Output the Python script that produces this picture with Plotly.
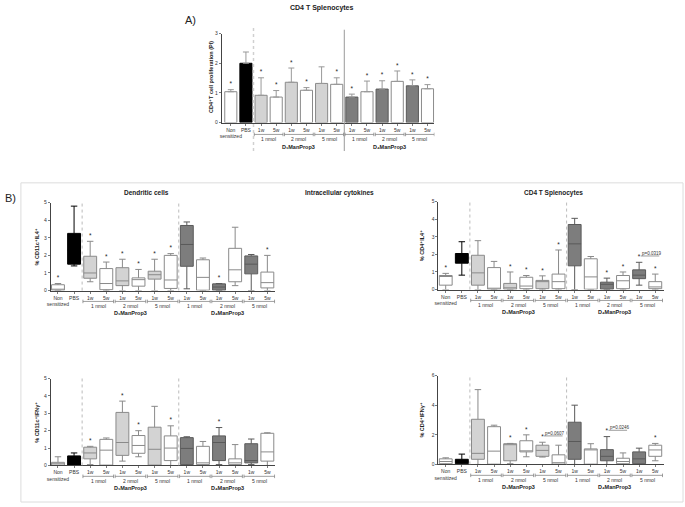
import plotly.graph_objects as go

W, H = 685, 507

# ---------------- data ----------------
categories = ["Non<br>sensitized", "PBS", "1w", "5w", "1w", "5w", "1w", "5w",
              "1w", "5w", "1w", "5w", "1w", "5w"]
dose_labels = ["1 nmol", "2 nmol", "5 nmol", "1 nmol", "2 nmol", "5 nmol"]
compound_labels = ["D₁ManProp3", "D₄ManProp3"]
fill_classes = ["white", "black", "light", "white", "light", "white", "light", "white",
                "dark", "white", "dark", "white", "dark", "white"]

# Panel A: CD4+ T cell proliferation (PI), mean and upper error
prolif_mean = [1.04, 2.00, 0.92, 0.86, 1.36, 1.09, 1.32, 1.29, 0.86, 1.04, 1.13, 1.39, 1.24, 1.14]
prolif_err_top = [1.11, 2.38, 1.51, 1.08, 1.84, 1.18, 1.88, 1.51, 0.96, 1.40, 1.41, 1.74, 1.44, 1.28]
prolif_star = [1, 0, 1, 1, 1, 1, 0, 1, 1, 1, 1, 1, 1, 1]

# Panel B1: % CD11c+ IL4+
dc_il4_low = [0, 1.4, 0.5, 0, 0, 0, 0, 0, 0.1, 0, 0, 0.28, 0, 0]
dc_il4_q1 = [0.02, 1.5, 0.7, 0.05, 0.28, 0.25, 0.65, 0.12, 1.38, 0.02, 0.02, 0.5, 0.95, 0.15]
dc_il4_med = [0.05, 2.3, 1.0, 0.4, 0.55, 0.62, 0.9, 0.6, 2.62, 0.75, 0.2, 1.18, 1.5, 0.45]
dc_il4_q3 = [0.33, 3.25, 1.95, 1.25, 1.3, 0.72, 1.1, 2.0, 3.7, 1.75, 0.38, 2.4, 1.97, 1.05]
dc_il4_high = [0.4, 4.8, 2.8, 1.62, 1.78, 1.2, 1.78, 2.1, 3.9, 1.85, 0.4, 3.6, 2.05, 2.0]
dc_il4_star = [1, 0, 1, 1, 1, 1, 1, 1, 0, 0, 1, 0, 0, 1]

# Panel B2: % CD4+ IL4+
cd4_il4_low = [0, 0.82, 0, 0, 0, 0, 0, 0, 0, 0, 0, 0, 0.25, 0]
cd4_il4_q1 = [0.25, 1.5, 0.25, 0.02, 0.02, 0.05, 0.05, 0.05, 1.35, 0.02, 0.02, 0.05, 0.62, 0.05]
cd4_il4_med = [0.78, 1.8, 0.95, 0.05, 0.1, 0.2, 0.45, 0.45, 2.6, 0.72, 0.3, 0.5, 0.82, 0.15]
cd4_il4_q3 = [0.8, 2.05, 1.95, 1.25, 0.35, 0.7, 0.52, 0.88, 3.7, 1.75, 0.42, 0.8, 1.12, 0.45]
cd4_il4_high = [0.92, 2.72, 2.78, 1.6, 1.0, 0.8, 0.78, 2.25, 4.05, 1.88, 0.65, 1.0, 1.55, 0.88]
cd4_il4_star = [1, 0, 0, 0, 1, 1, 1, 1, 0, 0, 1, 1, 1, 1]
cd4_il4_p = {12: "p=0.0319"}

# Panel B3: % CD11c+ IFNγ+
dc_ifn_low = [0, 0, 0.05, 0, 0.25, 0.5, 0, 0, 0, 0, 0.05, 0, 0.05, 0]
dc_ifn_q1 = [0.02, 0.02, 0.38, 0.02, 0.58, 0.7, 0.02, 0.28, 0.05, 0.05, 0.28, 0.05, 0.15, 0.25]
dc_ifn_med = [0.1, 0.3, 0.72, 0.88, 1.32, 1.15, 0.93, 1.0, 0.98, 0.15, 1.32, 0.15, 0.28, 0.78]
dc_ifn_q3 = [0.18, 0.55, 1.05, 1.5, 3.05, 1.72, 2.2, 1.7, 1.6, 1.1, 1.7, 0.38, 1.25, 1.85]
dc_ifn_high = [0.5, 0.72, 1.1, 1.58, 3.7, 2.0, 3.4, 2.28, 1.65, 1.38, 2.18, 1.2, 1.52, 1.88]
dc_ifn_star = [0, 0, 1, 0, 1, 1, 0, 1, 0, 0, 1, 0, 0, 0]

# Panel B4: % CD4+ IFNγ+
cd4_ifn_low = [0, 0, 0, 0, 0.05, 0.52, 0.5, 0, 0, 0, 0, 0, 0, 0.25]
cd4_ifn_q1 = [0.05, 0.05, 0.35, 0.02, 0.25, 0.85, 0.55, 0.02, 0.35, 0.02, 0.25, 0.05, 0.05, 0.55]
cd4_ifn_med = [0.2, 0.2, 0.75, 0.9, 1.35, 0.92, 0.95, 0.12, 1.55, 1.0, 0.55, 0.2, 0.38, 0.98]
cd4_ifn_q3 = [0.38, 0.35, 3.05, 2.55, 1.4, 1.6, 1.3, 0.65, 2.85, 1.05, 1.0, 0.42, 0.85, 1.3]
cd4_ifn_high = [0.45, 0.7, 5.05, 2.65, 1.42, 2.0, 1.5, 1.3, 4.0, 1.4, 1.88, 0.78, 1.1, 1.42]
cd4_ifn_star = [0, 0, 0, 0, 1, 1, 1, 0, 0, 0, 1, 0, 0, 1]
cd4_ifn_p = {6: "p=0.0607", 10: "p=0.0246"}

# ---------------- style ----------------
FONT = "Arial, Liberation Sans, DejaVu Sans, sans-serif"
FILL = {"white": "#ffffff", "black": "#000000", "light": "#d3d3d3", "dark": "#7d7d7d"}
EDGE = {"white": "#8a8a8a", "black": "#000000", "light": "#8a8a8a", "dark": "#5a5a5a"}
TXT = "#222222"

fig = go.Figure()
shapes, annotations = [], []


def px2x(p):
    return p / W


def px2y(p):
    return 1 - p / H


def note(x, y, text, size, xref="paper", yref="paper", angle=0, xanchor="center", color=TXT):
    annotations.append(dict(x=x, y=y, xref=xref, yref=yref, text=text, showarrow=False,
                            textangle=angle, xanchor=xanchor, yanchor="middle",
                            font=dict(size=size, color=color, family=FONT)))


def setup_axes(idx, xpx, ypx, xrange, yrange, dtick, off):
    xa = "xaxis" if idx == 1 else f"xaxis{idx}"
    ya = "yaxis" if idx == 1 else f"yaxis{idx}"
    xr = "x" if idx == 1 else f"x{idx}"
    yr = "y" if idx == 1 else f"y{idx}"
    fig.layout[xa] = dict(domain=[px2x(xpx[0]), px2x(xpx[1])], range=xrange, anchor=yr,
                          tickvals=list(range(len(categories))), ticktext=categories,
                          tickangle=0, tickfont=dict(size=5, color="#333", family=FONT),
                          ticks="outside", ticklen=2, tickwidth=0.7, tickcolor="#444",
                          showline=True, linecolor="#444", linewidth=1,
                          showgrid=False, zeroline=False, fixedrange=True)
    fig.layout[ya] = dict(domain=[px2y(ypx[1]), px2y(ypx[0])], range=yrange, anchor=xr,
                          dtick=dtick, tickfont=dict(size=5, color="#333", family=FONT),
                          ticks="outside", ticklen=2, tickwidth=0.7, tickcolor="#444",
                          showline=True, linecolor="#444", linewidth=1,
                          showgrid=False, zeroline=False, fixedrange=True)
    hpx = ypx[1] - ypx[0]
    ydom = yr + " domain"
    pairs = [(2, 3), (4, 5), (6, 7), (8, 9), (10, 11), (12, 13)]
    yb = -off[0] / hpx
    tk = 1.8 / hpx
    for (a, b), lab in zip(pairs, dose_labels):
        shapes.append(dict(type="line", xref=xr, yref=ydom, x0=a - 0.45, x1=b + 0.45,
                           y0=yb, y1=yb, line=dict(color="#777", width=0.7)))
        for xe in (a - 0.45, b + 0.45):
            shapes.append(dict(type="line", xref=xr, yref=ydom, x0=xe, x1=xe,
                               y0=yb - tk, y1=yb + tk, line=dict(color="#777", width=0.7)))
        note((a + b) / 2, -off[1] / hpx, lab, 5, xref=xr, yref=ydom, color="#333")
    for gc, lab in zip((4.5, 10.5), compound_labels):
        note(gc, -off[2] / hpx, "<b>" + lab + "</b>", 5.5, xref=xr, yref=ydom)
    return xr, yr, hpx


def add_stars(xr, yr, tops, flags, yrange, hpx, gap_px=5):
    xs, ys = [], []
    for i, (t, f) in enumerate(zip(tops, flags)):
        if f:
            xs.append(i)
            ys.append(t + gap_px * (yrange[1] - yrange[0]) / hpx)
    fig.add_trace(go.Scatter(x=xs, y=ys, xaxis=xr, yaxis=yr, mode="text", text=["*"] * len(xs),
                             textfont=dict(size=6.5, color=TXT, family=FONT),
                             textposition="middle center", showlegend=False, hoverinfo="skip"))


def add_boxes(xr, yr, low, q1, med, q3, high):
    for cls in ("white", "light", "dark", "black"):
        idx = [i for i, c in enumerate(fill_classes) if c == cls]
        fig.add_trace(go.Box(x=idx, q1=[q1[i] for i in idx], median=[med[i] for i in idx],
                             q3=[q3[i] for i in idx], lowerfence=[low[i] for i in idx],
                             upperfence=[high[i] for i in idx], xaxis=xr, yaxis=yr,
                             width=0.8, whiskerwidth=0.5, boxpoints=False,
                             fillcolor=FILL[cls], line=dict(color=EDGE[cls], width=1),
                             showlegend=False, hoverinfo="skip"))


# ---------------- Panel A ----------------
xr, yr, hA = setup_axes(1, (219, 433), (31, 121), [-0.6, 13.46], [0, 3], 1, (12, 17, 25))
fig.add_trace(go.Bar(x=list(range(len(categories))), y=prolif_mean, xaxis=xr, yaxis=yr, width=0.8,
                     marker=dict(color=[FILL[c] for c in fill_classes],
                                 line=dict(color=[EDGE[c] for c in fill_classes], width=1)),
                     error_y=dict(type="data", symmetric=False,
                                  array=[t - m for t, m in zip(prolif_err_top, prolif_mean)],
                                  arrayminus=[0] * len(prolif_mean), color="#999",
                                  thickness=1, width=3),
                     showlegend=False, hoverinfo="skip"))
add_stars(xr, yr, prolif_err_top, prolif_star, [0, 3], hA)
shapes.append(dict(type="line", xref=xr, yref="y domain", x0=1.5, x1=1.5, y0=-0.32, y1=1.067,
                   line=dict(color="#d0d0d0", width=1.5, dash="dot")))
shapes.append(dict(type="line", xref=xr, yref="y domain", x0=7.5, x1=7.5, y0=-0.32, y1=1.044,
                   line=dict(color="#999", width=1)))
note(px2x(208), px2y(75), "<b>CD4⁺T cell proliferation (PI)</b>", 5.5, angle=-90)
note(px2x(320), px2y(5), "<b>CD4 T Splenocytes</b>", 7)
note(px2x(188), px2y(17), "A)", 11)

# ---------------- Panel B frame ----------------
shapes.append(dict(type="rect", xref="paper", yref="paper", x0=px2x(17), x1=px2x(683),
                   y0=px2y(505), y1=px2y(182), line=dict(color="#dcdcdc", width=1)))
note(px2x(7), px2y(197), "B)", 11)
for xc, t in ((143, "Dendritic cells"), (337, "Intracellular cytokines"), (553, "CD4 T Splenocytes")):
    note(px2x(xc), px2y(192), "<b>" + t + "</b>", 6.5)

panels = [
    (2, (47, 273), (202, 291), [-0.45, 13.5], [0, 5], 1,
     (dc_il4_low, dc_il4_q1, dc_il4_med, dc_il4_q3, dc_il4_high), dc_il4_star, {},
     "% CD11c⁺IL4⁺", 33),
    (3, (437, 664), (201, 290), [-0.45, 13.55], [0, 5], 1,
     (cd4_il4_low, cd4_il4_q1, cd4_il4_med, cd4_il4_q3, cd4_il4_high), cd4_il4_star, cd4_il4_p,
     "% CD4⁺IL4⁺", 420),
    (4, (47, 273), (380, 468), [-0.45, 13.5], [0, 5], 1,
     (dc_ifn_low, dc_ifn_q1, dc_ifn_med, dc_ifn_q3, dc_ifn_high), dc_ifn_star, {},
     "% CD11c⁺IFNγ⁺", 33),
    (5, (437, 664), (377, 467), [-0.45, 13.55], [0, 6], 2,
     (cd4_ifn_low, cd4_ifn_q1, cd4_ifn_med, cd4_ifn_q3, cd4_ifn_high), cd4_ifn_star, cd4_ifn_p,
     "% CD4⁺IFNγ⁺", 420),
]

for idx, xpx, ypx, xrange, yrange, dt, stats, stars, pvals, ytitle, ytx in panels:
    xr, yr, hp = setup_axes(idx, xpx, ypx, xrange, yrange, dt, (11, 15.5, 22.5))
    low, q1, med, q3, high = stats
    add_boxes(xr, yr, low, q1, med, q3, high)
    add_stars(xr, yr, high, stars, yrange, hp)
    unit = (yrange[1] - yrange[0]) / hp
    for ci, txt in pvals.items():
        yv = high[ci] + 9 * unit
        note(ci + 0.05, yv, txt, 4.5, xref=xr, yref=yr, xanchor="left", color="#333")
        shapes.append(dict(type="line", xref=xr, yref=yr, x0=ci + 0.1, x1=ci + 1.25,
                           y0=yv - 2.6 * unit, y1=yv - 2.6 * unit,
                           line=dict(color="#555", width=0.6)))
    for xs in (1.5, 7.5):
        shapes.append(dict(type="line", xref=xr, yref=yr + " domain", x0=xs, x1=xs, y0=0, y1=1,
                           line=dict(color="#aaa", width=0.8, dash="dot")))
    note(px2x(ytx), px2y((ypx[0] + ypx[1]) / 2), "<b>" + ytitle + "</b>", 5.5, angle=-90)

fig.update_layout(width=W, height=H, margin=dict(l=0, r=0, t=0, b=0),
                  paper_bgcolor="white", plot_bgcolor="rgba(0,0,0,0)",
                  boxmode="overlay", barmode="overlay", showlegend=False,
                  font=dict(family=FONT), shapes=shapes, annotations=annotations)

fig.write_html("out.html", config={"displayModeBar": False, "staticPlot": True},
               post_script="document.body.style.margin='0';document.body.style.overflow='hidden';")
